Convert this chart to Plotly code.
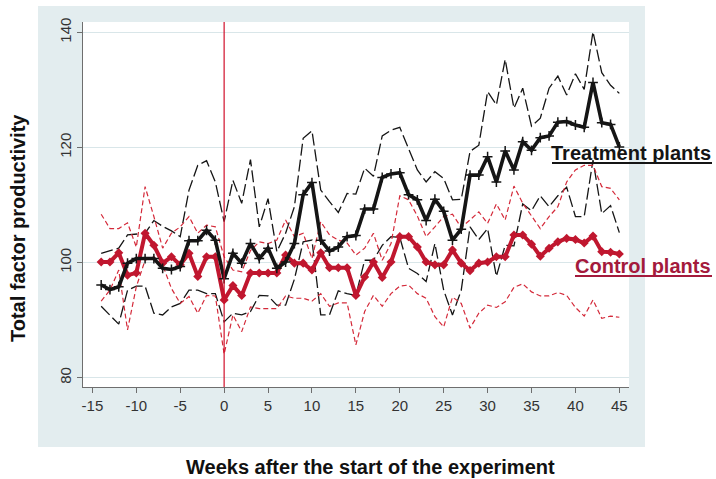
import plotly.graph_objects as go

# Weeks relative to the start of the experiment
weeks = list(range(-14, 46))

# Treatment plants: mean TFP and confidence band
treat_mean = [96.1, 95.3, 95.8, 99.9, 100.7, 100.7, 100.7, 99.0, 98.8, 99.3,
              103.8, 103.8, 105.6, 103.9, 97.2, 101.6, 99.9, 103.3, 100.7, 102.5,
              99.0, 100.1, 103.3, 111.8, 113.9, 103.9, 102.0, 102.7, 104.5, 104.7,
              109.3, 109.3, 114.8, 115.4, 115.6, 111.8, 110.9, 107.3, 111.0, 108.9,
              103.9, 105.8, 115.2, 115.2, 118.4, 114.0, 119.4, 116.1, 121.0, 119.5,
              121.7, 122.0, 124.4, 124.5, 123.9, 123.5, 131.3, 124.3, 124.0, 120.1]
treat_upper = [101.6, 102.0, 102.5, 104.8, 104.9, 105.1, 107.3, 106.3, 105.5, 104.5,
               112.6, 116.9, 117.7, 114.0, 107.1, 114.3, 110.3, 117.9, 106.2, 111.1,
               101.9, 105.1, 109.7, 121.6, 122.9, 112.6, 110.6, 108.7, 112.0, 111.9,
               116.4, 115.0, 122.0, 123.0, 123.5, 119.8, 116.1, 114.0, 115.8, 114.6,
               110.9, 111.0, 119.3, 120.4, 129.7, 127.4, 135.3, 126.8, 130.3, 123.7,
               125.1, 130.3, 132.4, 129.1, 132.8, 130.1, 140.1, 133.0, 130.8, 129.4]
treat_lower = [92.4, 90.9, 89.3, 95.2, 95.9, 95.9, 91.2, 90.9, 92.3, 92.9,
               95.2, 95.2, 94.6, 94.6, 89.7, 91.2, 90.9, 91.5, 94.3, 94.2,
               92.6, 92.6, 97.1, 103.6, 103.9, 90.9, 90.9, 95.1, 94.6, 94.3,
               100.4, 100.4, 103.0, 104.5, 104.4, 99.0, 98.1, 96.7, 103.3, 95.2,
               90.9, 95.2, 106.2, 104.0, 105.9, 97.6, 103.0, 102.9, 110.2, 109.0,
               111.6, 109.7, 111.6, 113.1, 108.0, 108.0, 117.8, 108.5, 109.9, 105.2]

# Control plants: mean TFP and confidence band
ctrl_mean = [100.1, 100.1, 101.7, 97.8, 98.2, 105.1, 103.0, 99.9, 101.0, 99.6,
             101.6, 97.6, 101.0, 101.0, 93.5, 96.0, 94.3, 98.2, 98.2, 98.2,
             98.2, 101.3, 99.9, 99.9, 98.7, 101.7, 99.1, 99.1, 99.1, 94.3,
             97.5, 100.1, 97.4, 100.1, 104.5, 104.5, 102.7, 100.1, 99.6, 99.6,
             102.2, 99.9, 98.6, 99.9, 100.1, 101.0, 101.0, 104.8, 104.8, 103.2,
             101.1, 102.5, 103.6, 104.2, 104.0, 103.4, 104.6, 101.9, 101.8, 101.5]
ctrl_upper = [108.4, 105.9, 105.9, 106.9, 102.7, 113.2, 108.0, 102.5, 105.1, 106.2,
              108.0, 105.1, 106.5, 106.2, 101.0, 98.7, 98.4, 102.1, 103.6, 103.3,
              103.9, 107.4, 104.5, 105.1, 100.7, 107.1, 104.8, 103.9, 103.4, 101.3,
              102.5, 105.1, 100.4, 103.3, 111.6, 110.9, 108.1, 104.5, 106.2, 108.0,
              108.4, 106.1, 107.4, 108.8, 106.8, 110.2, 107.4, 113.3, 110.3, 108.0,
              105.9, 108.0, 109.7, 114.0, 116.1, 116.9, 116.9, 113.2, 112.9, 110.9]
ctrl_lower = [93.3, 95.2, 98.7, 88.3, 95.8, 100.4, 101.0, 99.6, 95.5, 92.9,
              94.1, 91.2, 94.3, 94.2, 84.1, 90.9, 88.0, 92.3, 92.0, 92.0,
              92.0, 94.2, 93.8, 93.8, 93.3, 94.6, 92.4, 93.0, 93.0, 85.7,
              91.5, 94.3, 92.4, 94.6, 95.9, 96.1, 94.6, 93.8, 90.6, 88.8,
              94.0, 92.9, 88.6, 91.2, 92.6, 92.2, 93.2, 95.7, 96.3, 94.9,
              94.2, 94.2, 94.8, 94.3, 92.2, 90.7, 93.5, 90.3, 90.7, 90.5]

x_ticks = list(range(-15, 50, 5))
x_tick_labels = [str(v) for v in x_ticks]
y_ticks = [80, 100, 120, 140]
y_tick_labels = [str(v) for v in y_ticks]

BLACK = "#151515"
RED = "#c0172f"
RED_DASH = "#d42a3a"
LABEL_RED = "#a41a3c"
PANEL = "#e3edef"
GRID = "#d9e6e9"
AXIS = "#6e6e6e"
FONT = "Liberation Sans, Arial, sans-serif"

fig = go.Figure()

# Confidence bands (dashed)
for ys in (treat_upper, treat_lower):
    fig.add_trace(go.Scatter(x=weeks, y=ys, mode="lines",
                             line=dict(color=BLACK, width=1.3, dash="12px,4px"),
                             hoverinfo="skip", showlegend=False))
for ys in (ctrl_upper, ctrl_lower):
    fig.add_trace(go.Scatter(x=weeks, y=ys, mode="lines",
                             line=dict(color=RED_DASH, width=1.2, dash="5px,3px"),
                             hoverinfo="skip", showlegend=False))

# Group means
fig.add_trace(go.Scatter(x=weeks, y=ctrl_mean, mode="lines+markers",
                         line=dict(color=RED, width=4),
                         marker=dict(symbol="diamond", size=7, color=RED),
                         showlegend=False))
fig.add_trace(go.Scatter(x=weeks, y=treat_mean, mode="lines+markers",
                         line=dict(color=BLACK, width=3.6),
                         marker=dict(symbol="cross-thin", size=7,
                                     line=dict(color=BLACK, width=1.5)),
                         showlegend=False))

L, R, T, B = 83, 87, 22, 92
W, H = 716, 479
pw, ph = W - L - R, H - T - B


def px_x(p):
    return (p - L) / pw


def px_y(p):
    return (H - B - p) / ph


shapes = [
    # grey panel behind the plot
    dict(type="rect", xref="paper", yref="paper", layer="below",
         x0=px_x(38), x1=px_x(645), y0=px_y(447), y1=px_y(6),
         fillcolor=PANEL, line=dict(width=0)),
    # white plotting area
    dict(type="rect", xref="paper", yref="paper", layer="below",
         x0=0, x1=1, y0=0, y1=1, fillcolor="white", line=dict(width=0)),
    # start of the experiment
    dict(type="line", xref="x", yref="paper", x0=0, x1=0, y0=0, y1=1,
         line=dict(color="#d0102a", width=1.2)),
    # underlines of the group labels
    dict(type="line", xref="paper", yref="paper",
         x0=px_x(552), x1=px_x(712), y0=px_y(163), y1=px_y(163),
         line=dict(color=BLACK, width=2)),
    dict(type="line", xref="paper", yref="paper",
         x0=px_x(575), x1=px_x(712), y0=px_y(276), y1=px_y(276),
         line=dict(color=LABEL_RED, width=2)),
]

annotations = [
    dict(text="<b>Treatment plants</b>", xref="paper", yref="paper",
         x=px_x(713), y=px_y(153), xanchor="right", yanchor="middle",
         showarrow=False, font=dict(family=FONT, size=20, color=BLACK)),
    dict(text="<b>Control plants</b>", xref="paper", yref="paper",
         x=px_x(713), y=px_y(266), xanchor="right", yanchor="middle",
         showarrow=False, font=dict(family=FONT, size=20, color=LABEL_RED)),
    dict(text="<b>Weeks after the start of the experiment</b>", xref="paper",
         yref="paper", x=px_x(370), y=px_y(467), xanchor="center",
         yanchor="middle", showarrow=False,
         font=dict(family=FONT, size=20, color="#111111")),
    dict(text="<b>Total factor productivity</b>", xref="paper", yref="paper",
         x=px_x(18), y=px_y(228), xanchor="center", yanchor="middle",
         textangle=-90, showarrow=False,
         font=dict(family=FONT, size=20, color="#111111")),
]

fig.update_layout(
    width=W, height=H,
    margin=dict(l=L, r=R, t=T, b=B),
    paper_bgcolor="white", plot_bgcolor="white",
    shapes=shapes, annotations=annotations,
    font=dict(family=FONT, size=15, color="#333333"),
    xaxis=dict(range=[-16.07, 46.1], tickvals=x_ticks, ticktext=x_tick_labels,
               showgrid=False, zeroline=False, showline=True, linecolor=AXIS,
               linewidth=1, ticks="outside", ticklen=5, tickcolor=AXIS,
               tickfont=dict(size=15, color="#333333")),
    yaxis=dict(range=[78.38, 141.8], tickvals=y_ticks, ticktext=y_tick_labels,
               showgrid=True, gridcolor=GRID, gridwidth=1, zeroline=False,
               showline=True, linecolor=AXIS, linewidth=1, ticks="outside",
               ticklen=5, tickcolor=AXIS, tickangle=-90,
               tickfont=dict(size=15, color="#333333")),
)

fig.write_html("out.html")
